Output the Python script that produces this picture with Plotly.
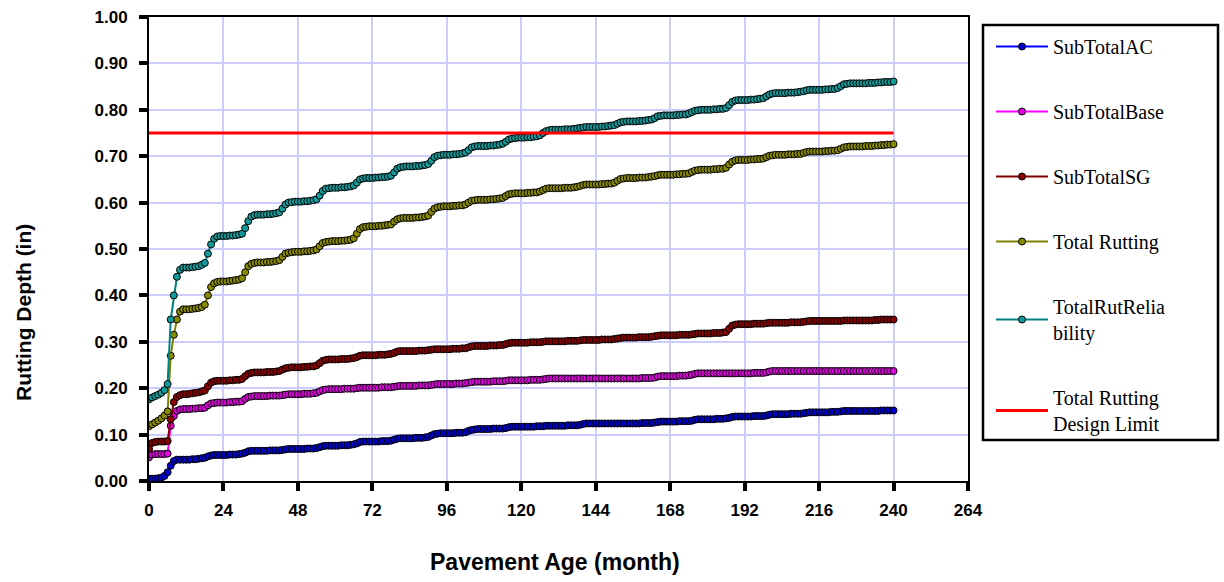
import plotly.graph_objects as go

months = list(range(0, 241))

sub_total_ac = [
    0.005, 0.005, 0.005, 0.006, 0.007, 0.011, 0.019, 0.033, 0.043, 0.046, 0.046, 0.046,
    0.046, 0.046, 0.047, 0.047, 0.048, 0.049, 0.050, 0.053, 0.055, 0.056, 0.056, 0.056,
    0.056, 0.056, 0.057, 0.057, 0.057, 0.058, 0.059, 0.061, 0.064, 0.065, 0.065, 0.065,
    0.065, 0.065, 0.065, 0.066, 0.066, 0.066, 0.066, 0.067, 0.068, 0.069, 0.069, 0.069,
    0.069, 0.069, 0.069, 0.070, 0.070, 0.070, 0.071, 0.073, 0.075, 0.076, 0.076, 0.076,
    0.076, 0.076, 0.077, 0.077, 0.077, 0.078, 0.079, 0.081, 0.084, 0.085, 0.085, 0.085,
    0.085, 0.085, 0.085, 0.086, 0.086, 0.086, 0.087, 0.089, 0.091, 0.092, 0.092, 0.092,
    0.092, 0.092, 0.093, 0.093, 0.093, 0.094, 0.095, 0.098, 0.101, 0.102, 0.103, 0.103,
    0.103, 0.103, 0.103, 0.104, 0.104, 0.104, 0.105, 0.108, 0.110, 0.111, 0.112, 0.112,
    0.112, 0.112, 0.112, 0.113, 0.113, 0.113, 0.113, 0.114, 0.116, 0.117, 0.117, 0.117,
    0.117, 0.117, 0.117, 0.117, 0.117, 0.118, 0.118, 0.118, 0.119, 0.119, 0.119, 0.119,
    0.119, 0.119, 0.119, 0.120, 0.120, 0.120, 0.120, 0.121, 0.123, 0.124, 0.124, 0.124,
    0.124, 0.124, 0.124, 0.124, 0.124, 0.124, 0.124, 0.124, 0.124, 0.124, 0.124, 0.124,
    0.124, 0.124, 0.124, 0.125, 0.125, 0.125, 0.125, 0.126, 0.127, 0.128, 0.128, 0.128,
    0.128, 0.128, 0.128, 0.129, 0.129, 0.129, 0.129, 0.130, 0.132, 0.133, 0.133, 0.133,
    0.133, 0.133, 0.133, 0.134, 0.134, 0.134, 0.135, 0.136, 0.138, 0.139, 0.139, 0.139,
    0.139, 0.139, 0.139, 0.140, 0.140, 0.140, 0.140, 0.141, 0.143, 0.144, 0.144, 0.144,
    0.144, 0.144, 0.144, 0.145, 0.145, 0.145, 0.145, 0.146, 0.147, 0.148, 0.148, 0.148,
    0.148, 0.148, 0.148, 0.148, 0.149, 0.149, 0.149, 0.150, 0.151, 0.151, 0.151, 0.151,
    0.151, 0.151, 0.151, 0.151, 0.151, 0.151, 0.151, 0.151, 0.152, 0.152, 0.152, 0.152,
    0.152,
]

sub_total_base = [
    0.051, 0.057, 0.058, 0.058, 0.058, 0.058, 0.059, 0.119, 0.140, 0.151, 0.154, 0.155,
    0.155, 0.155, 0.156, 0.156, 0.157, 0.157, 0.158, 0.163, 0.167, 0.168, 0.169, 0.169,
    0.169, 0.169, 0.170, 0.170, 0.171, 0.171, 0.172, 0.177, 0.181, 0.182, 0.183, 0.183,
    0.183, 0.183, 0.183, 0.184, 0.184, 0.184, 0.184, 0.185, 0.186, 0.187, 0.187, 0.187,
    0.187, 0.187, 0.188, 0.188, 0.188, 0.189, 0.190, 0.193, 0.196, 0.197, 0.198, 0.198,
    0.198, 0.198, 0.198, 0.199, 0.199, 0.199, 0.199, 0.200, 0.201, 0.201, 0.201, 0.201,
    0.201, 0.201, 0.201, 0.202, 0.202, 0.202, 0.202, 0.203, 0.204, 0.205, 0.205, 0.205,
    0.205, 0.205, 0.205, 0.206, 0.206, 0.206, 0.206, 0.207, 0.208, 0.209, 0.209, 0.209,
    0.209, 0.209, 0.209, 0.210, 0.210, 0.210, 0.211, 0.212, 0.213, 0.214, 0.214, 0.214,
    0.214, 0.214, 0.214, 0.215, 0.215, 0.215, 0.215, 0.216, 0.217, 0.217, 0.217, 0.217,
    0.217, 0.217, 0.217, 0.218, 0.218, 0.218, 0.218, 0.219, 0.220, 0.221, 0.221, 0.221,
    0.221, 0.221, 0.221, 0.221, 0.221, 0.221, 0.221, 0.221, 0.221, 0.221, 0.221, 0.221,
    0.221, 0.221, 0.221, 0.221, 0.221, 0.221, 0.221, 0.221, 0.221, 0.221, 0.221, 0.221,
    0.221, 0.221, 0.221, 0.222, 0.222, 0.222, 0.222, 0.223, 0.225, 0.226, 0.226, 0.226,
    0.226, 0.226, 0.226, 0.227, 0.227, 0.227, 0.228, 0.229, 0.231, 0.232, 0.232, 0.232,
    0.232, 0.232, 0.232, 0.232, 0.232, 0.232, 0.232, 0.232, 0.232, 0.232, 0.232, 0.232,
    0.232, 0.232, 0.232, 0.233, 0.233, 0.233, 0.233, 0.234, 0.236, 0.237, 0.237, 0.237,
    0.237, 0.237, 0.237, 0.237, 0.237, 0.237, 0.237, 0.237, 0.237, 0.237, 0.237, 0.237,
    0.237, 0.237, 0.237, 0.237, 0.237, 0.237, 0.237, 0.237, 0.237, 0.237, 0.237, 0.237,
    0.237, 0.237, 0.237, 0.237, 0.237, 0.237, 0.237, 0.237, 0.237, 0.237, 0.237, 0.237,
    0.237,
]

sub_total_sg = [
    0.069, 0.082, 0.084, 0.085, 0.085, 0.085, 0.086, 0.133, 0.170, 0.181, 0.185, 0.187,
    0.187, 0.188, 0.189, 0.190, 0.191, 0.193, 0.195, 0.204, 0.212, 0.215, 0.216, 0.216,
    0.216, 0.216, 0.217, 0.217, 0.218, 0.218, 0.220, 0.226, 0.231, 0.233, 0.234, 0.234,
    0.234, 0.234, 0.235, 0.235, 0.235, 0.236, 0.237, 0.240, 0.243, 0.244, 0.245, 0.245,
    0.245, 0.245, 0.246, 0.246, 0.247, 0.247, 0.249, 0.254, 0.259, 0.261, 0.262, 0.262,
    0.262, 0.262, 0.263, 0.263, 0.263, 0.264, 0.265, 0.267, 0.270, 0.271, 0.271, 0.271,
    0.271, 0.271, 0.272, 0.272, 0.272, 0.273, 0.274, 0.276, 0.279, 0.280, 0.280, 0.280,
    0.280, 0.280, 0.280, 0.281, 0.281, 0.281, 0.282, 0.283, 0.284, 0.284, 0.284, 0.284,
    0.284, 0.284, 0.285, 0.285, 0.285, 0.286, 0.286, 0.288, 0.290, 0.291, 0.291, 0.291,
    0.291, 0.291, 0.292, 0.292, 0.292, 0.293, 0.293, 0.295, 0.297, 0.298, 0.298, 0.298,
    0.298, 0.298, 0.298, 0.299, 0.299, 0.299, 0.299, 0.300, 0.301, 0.301, 0.301, 0.301,
    0.301, 0.301, 0.301, 0.302, 0.302, 0.302, 0.302, 0.303, 0.304, 0.304, 0.304, 0.304,
    0.304, 0.304, 0.305, 0.305, 0.305, 0.305, 0.306, 0.307, 0.308, 0.309, 0.309, 0.309,
    0.309, 0.309, 0.310, 0.310, 0.310, 0.310, 0.311, 0.312, 0.313, 0.314, 0.314, 0.314,
    0.314, 0.314, 0.314, 0.315, 0.315, 0.315, 0.315, 0.316, 0.317, 0.318, 0.318, 0.318,
    0.318, 0.318, 0.319, 0.319, 0.319, 0.320, 0.321, 0.328, 0.335, 0.337, 0.338, 0.338,
    0.338, 0.338, 0.338, 0.339, 0.339, 0.339, 0.339, 0.340, 0.341, 0.341, 0.341, 0.341,
    0.341, 0.341, 0.341, 0.342, 0.342, 0.342, 0.342, 0.343, 0.344, 0.345, 0.345, 0.345,
    0.345, 0.345, 0.345, 0.345, 0.345, 0.345, 0.345, 0.345, 0.346, 0.346, 0.346, 0.346,
    0.346, 0.346, 0.346, 0.346, 0.346, 0.346, 0.347, 0.347, 0.348, 0.348, 0.348, 0.348,
    0.348,
]

total_rutting = [
    0.118, 0.122, 0.126, 0.130, 0.135, 0.141, 0.150, 0.270, 0.315, 0.348, 0.365, 0.370,
    0.370, 0.370, 0.371, 0.372, 0.373, 0.375, 0.380, 0.400, 0.418, 0.426, 0.429, 0.430,
    0.430, 0.430, 0.431, 0.432, 0.433, 0.434, 0.437, 0.450, 0.463, 0.468, 0.470, 0.471,
    0.471, 0.471, 0.472, 0.472, 0.473, 0.474, 0.476, 0.483, 0.490, 0.492, 0.493, 0.494,
    0.494, 0.494, 0.495, 0.495, 0.496, 0.497, 0.499, 0.506, 0.513, 0.515, 0.516, 0.517,
    0.517, 0.517, 0.518, 0.518, 0.519, 0.520, 0.523, 0.533, 0.543, 0.547, 0.548, 0.549,
    0.549, 0.549, 0.550, 0.550, 0.551, 0.552, 0.553, 0.559, 0.564, 0.566, 0.567, 0.567,
    0.567, 0.567, 0.568, 0.568, 0.569, 0.570, 0.572, 0.580, 0.587, 0.590, 0.591, 0.592,
    0.592, 0.592, 0.593, 0.593, 0.594, 0.594, 0.596, 0.600, 0.604, 0.605, 0.606, 0.606,
    0.606, 0.606, 0.607, 0.607, 0.608, 0.609, 0.610, 0.614, 0.618, 0.619, 0.620, 0.620,
    0.620, 0.620, 0.621, 0.621, 0.622, 0.622, 0.624, 0.627, 0.630, 0.631, 0.631, 0.631,
    0.631, 0.631, 0.632, 0.632, 0.632, 0.633, 0.634, 0.636, 0.638, 0.639, 0.639, 0.639,
    0.639, 0.639, 0.640, 0.640, 0.641, 0.641, 0.643, 0.647, 0.651, 0.652, 0.653, 0.653,
    0.653, 0.653, 0.654, 0.654, 0.654, 0.655, 0.656, 0.657, 0.659, 0.660, 0.660, 0.660,
    0.660, 0.660, 0.661, 0.661, 0.662, 0.662, 0.663, 0.666, 0.669, 0.670, 0.671, 0.671,
    0.671, 0.671, 0.672, 0.672, 0.673, 0.673, 0.675, 0.682, 0.688, 0.691, 0.692, 0.692,
    0.692, 0.692, 0.693, 0.693, 0.694, 0.694, 0.695, 0.698, 0.701, 0.702, 0.703, 0.703,
    0.703, 0.703, 0.704, 0.704, 0.704, 0.705, 0.705, 0.707, 0.709, 0.710, 0.710, 0.710,
    0.710, 0.710, 0.711, 0.711, 0.712, 0.712, 0.713, 0.716, 0.719, 0.720, 0.721, 0.721,
    0.721, 0.721, 0.721, 0.722, 0.722, 0.722, 0.723, 0.723, 0.724, 0.724, 0.725, 0.725,
    0.726,
]

total_rut_reliability = [
    0.176, 0.180, 0.183, 0.186, 0.190, 0.196, 0.209, 0.348, 0.400, 0.440, 0.455, 0.460,
    0.460, 0.460, 0.461, 0.462, 0.463, 0.466, 0.470, 0.490, 0.510, 0.522, 0.527, 0.528,
    0.528, 0.528, 0.529, 0.529, 0.530, 0.531, 0.533, 0.545, 0.560, 0.570, 0.573, 0.574,
    0.574, 0.574, 0.575, 0.575, 0.576, 0.577, 0.579, 0.587, 0.596, 0.600, 0.601, 0.602,
    0.602, 0.602, 0.603, 0.603, 0.604, 0.605, 0.607, 0.615, 0.625, 0.630, 0.631, 0.632,
    0.632, 0.632, 0.633, 0.633, 0.634, 0.635, 0.637, 0.643, 0.650, 0.652, 0.653, 0.653,
    0.653, 0.654, 0.654, 0.655, 0.655, 0.656, 0.658, 0.665, 0.673, 0.676, 0.677, 0.678,
    0.678, 0.678, 0.679, 0.679, 0.680, 0.681, 0.683, 0.690, 0.698, 0.701, 0.702, 0.703,
    0.703, 0.703, 0.704, 0.704, 0.705, 0.706, 0.708, 0.713, 0.719, 0.721, 0.722, 0.722,
    0.722, 0.722, 0.723, 0.723, 0.724, 0.725, 0.727, 0.731, 0.736, 0.738, 0.739, 0.740,
    0.740, 0.740, 0.741, 0.741, 0.742, 0.743, 0.745, 0.750, 0.754, 0.756, 0.757, 0.757,
    0.757, 0.757, 0.758, 0.758, 0.758, 0.759, 0.760, 0.761, 0.762, 0.763, 0.763, 0.763,
    0.763, 0.763, 0.764, 0.764, 0.765, 0.766, 0.767, 0.770, 0.773, 0.774, 0.775, 0.775,
    0.775, 0.775, 0.776, 0.776, 0.777, 0.778, 0.779, 0.782, 0.786, 0.787, 0.788, 0.788,
    0.788, 0.788, 0.789, 0.789, 0.790, 0.790, 0.792, 0.795, 0.798, 0.799, 0.800, 0.800,
    0.800, 0.800, 0.801, 0.801, 0.802, 0.802, 0.804, 0.810, 0.817, 0.820, 0.821, 0.821,
    0.821, 0.821, 0.822, 0.822, 0.823, 0.824, 0.825, 0.829, 0.833, 0.835, 0.836, 0.836,
    0.836, 0.836, 0.837, 0.837, 0.837, 0.838, 0.839, 0.840, 0.842, 0.843, 0.843, 0.843,
    0.843, 0.843, 0.844, 0.844, 0.845, 0.845, 0.847, 0.851, 0.855, 0.856, 0.857, 0.857,
    0.857, 0.857, 0.857, 0.857, 0.858, 0.858, 0.858, 0.859, 0.859, 0.860, 0.860, 0.860,
    0.861,
]

limit_months = [0, 240]
design_limit = [0.75, 0.75]

x_ticks = [0, 24, 48, 72, 96, 120, 144, 168, 192, 216, 240, 264]
y_ticks = [0.0, 0.1, 0.2, 0.3, 0.4, 0.5, 0.6, 0.7, 0.8, 0.9, 1.0]

series = [
    ("SubTotalAC", sub_total_ac, "#0000ff", "#0000cc"),
    ("SubTotalBase", sub_total_base, "#ff00ff", "#e000e0"),
    ("SubTotalSG", sub_total_sg, "#800000", "#8b0000"),
    ("Total Rutting", total_rutting, "#808000", "#8a8a00"),
    ("TotalRutRelia<br>bility", total_rut_reliability, "#008080", "#129a9a"),
]

fig = go.Figure()
for i, (name, vals, lc, mc) in enumerate(series):
    fig.add_trace(go.Scatter(
        x=months, y=vals, name=name, mode="lines+markers",
        legendgroup=f"g{i}",
        line=dict(color=lc, width=2),
        marker=dict(symbol="circle", size=7, color=mc, line=dict(color="#000000", width=1)),
    ))

fig.add_trace(go.Scatter(
    x=limit_months, y=design_limit, name="Total Rutting<br>Design Limit", mode="lines",
    legendgroup="g5", line=dict(color="#ff0000", width=3),
))

sans_bold = "Liberation Sans, Arial, sans-serif"
tick_font = dict(family=sans_bold, size=17, color="#000000", weight="bold")

L, R, T, B = 149, 256, 17, 101
PW, PH = 1224 - L - R, 582 - T - B


def px_x(p):
    return (p - L) / PW


def px_y(p):
    return (582 - B - p) / PH


fig.update_layout(
    width=1224, height=582,
    margin=dict(l=L, r=R, t=T, b=B, autoexpand=False),
    paper_bgcolor="#ffffff", plot_bgcolor="#ffffff",
    showlegend=True,
    legend=dict(
        x=px_x(991), xanchor="left", y=px_y(27), yanchor="top",
        borderwidth=0, bgcolor="rgba(0,0,0,0)",
        font=dict(family="Liberation Serif, Times New Roman, serif", size=20, color="#000000"),
        tracegroupgap=36, itemwidth=52,
    ),
    shapes=[dict(
        type="rect", xref="paper", yref="paper",
        x0=px_x(983), x1=px_x(1218), y0=px_y(440), y1=px_y(25),
        line=dict(color="#000000", width=2.5), fillcolor="rgba(0,0,0,0)", layer="below",
    )],
    annotations=[
        dict(text="Rutting Depth (in)", xref="paper", yref="paper",
             x=px_x(23), y=px_y(313), textangle=-90, showarrow=False,
             xanchor="center", yanchor="middle",
             font=dict(family=sans_bold, size=21, color="#000000", weight="bold")),
        dict(text="Pavement Age (month)", xref="paper", yref="paper",
             x=px_x(555), y=px_y(562), showarrow=False,
             xanchor="center", yanchor="middle",
             font=dict(family=sans_bold, size=23, color="#000000", weight="bold")),
    ],
    xaxis=dict(
        range=[0, 264], tickvals=x_ticks, ticktext=[str(v) for v in x_ticks],
        showgrid=True, gridcolor="#ccccff", gridwidth=1.5,
        showline=True, linecolor="#000000", linewidth=2, mirror=True,
        ticks="outside", ticklen=8, tickwidth=4, tickcolor="#000000",
        tickfont=tick_font, zeroline=False, automargin=False, ticklabelstandoff=5,
    ),
    yaxis=dict(
        range=[0, 1.0], tickvals=y_ticks, tickformat=".2f",
        showgrid=True, gridcolor="#ccccff", gridwidth=1.5,
        showline=True, linecolor="#000000", linewidth=2, mirror=True,
        ticks="outside", ticklen=8, tickwidth=4, tickcolor="#000000",
        tickfont=tick_font, zeroline=False, automargin=False, ticklabelstandoff=8,
    ),
)

fig.write_html("out.html", config={"displayModeBar": False},
               post_script="document.body.style.margin='0px';")
